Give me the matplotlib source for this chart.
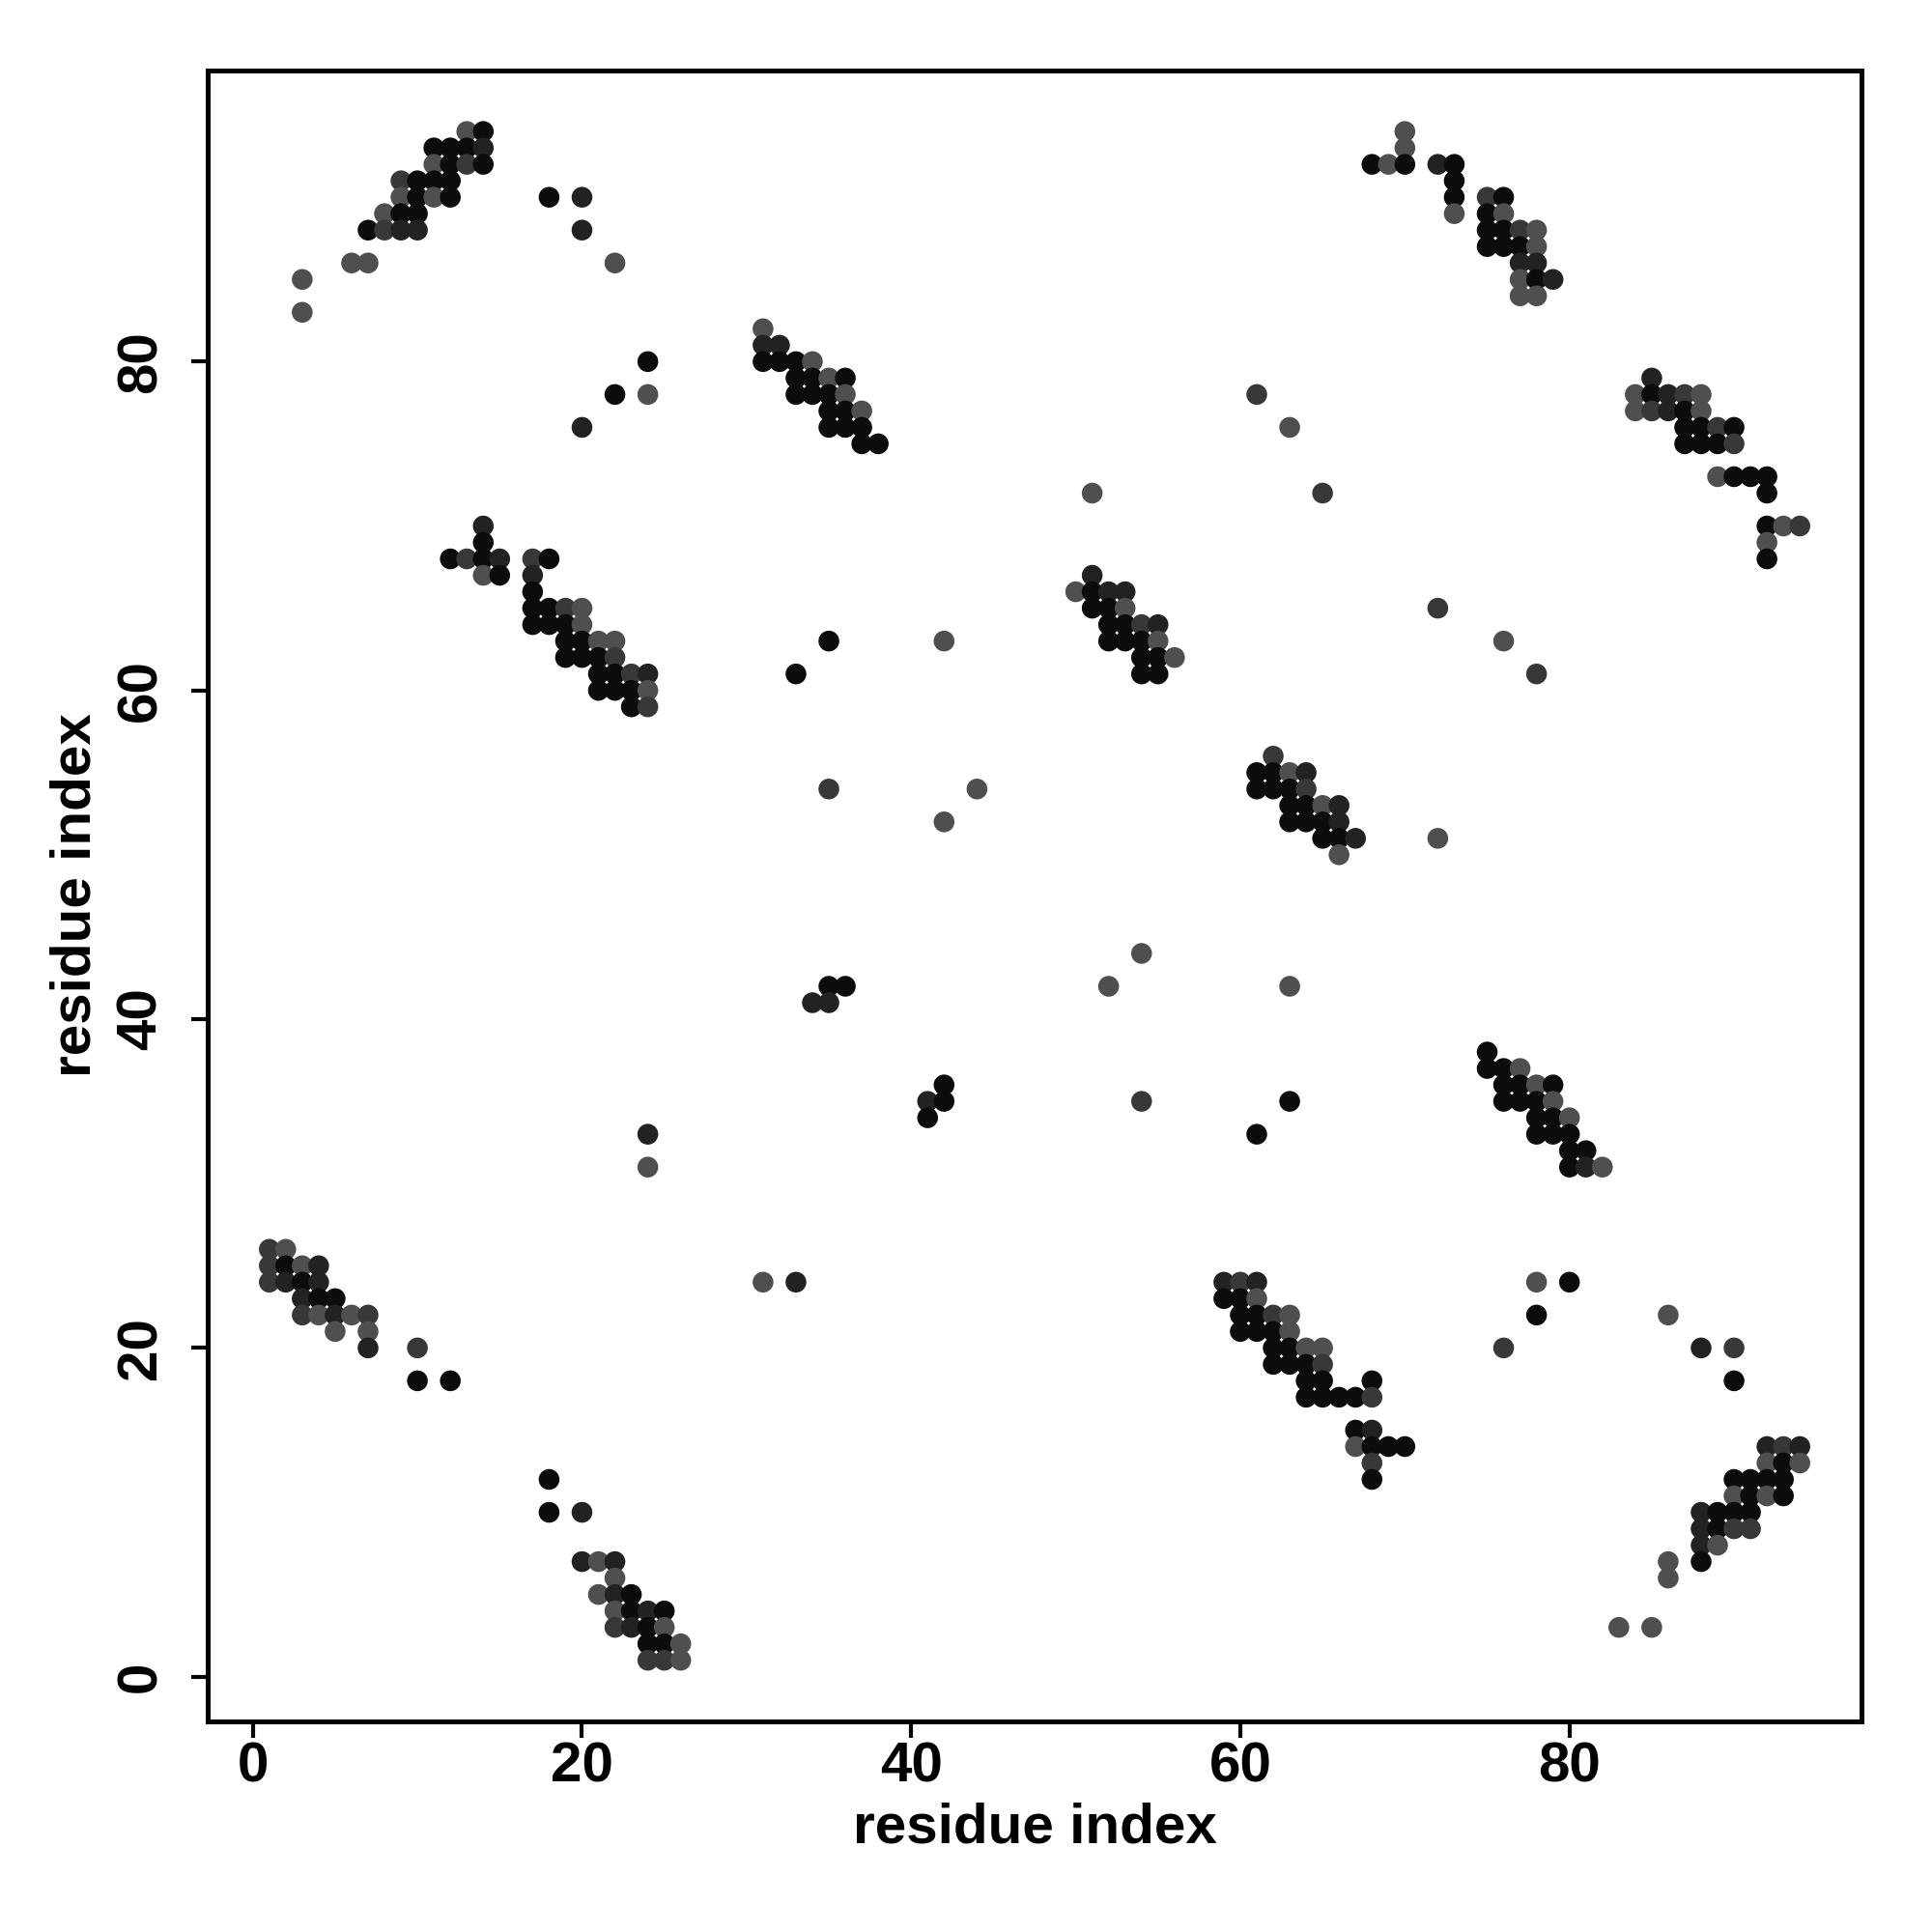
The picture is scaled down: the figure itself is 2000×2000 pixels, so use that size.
import matplotlib
matplotlib.use('Agg')
import matplotlib.pyplot as plt

# contact map: (i, j, shade) where shade 0=black ... 3=grey
contacts = [
    # top-left band
    (13, 94, 3), (14, 94, 0),
    (11, 93, 0), (12, 93, 0), (13, 93, 0), (14, 93, 1),
    (11, 92, 3), (12, 92, 0), (13, 92, 2), (14, 92, 0),
    (9, 91, 2), (10, 91, 0), (11, 91, 0), (12, 91, 0),
    (9, 90, 3), (10, 90, 0), (11, 90, 3), (12, 90, 0), (18, 90, 0), (20, 90, 1),
    (8, 89, 3), (9, 89, 0), (10, 89, 0),
    (7, 88, 0), (8, 88, 2), (9, 88, 1), (10, 88, 1), (20, 88, 1),
    (6, 86, 3), (7, 86, 3), (22, 86, 3),
    (3, 85, 3), (3, 83, 3),
    (24, 80, 0), (22, 78, 0), (24, 78, 3), (20, 76, 1),
    # 31-38 / 75-82
    (31, 82, 3),
    (31, 81, 1), (32, 81, 1),
    (31, 80, 0), (32, 80, 0), (33, 80, 0), (34, 80, 3),
    (33, 79, 0), (34, 79, 0), (35, 79, 3), (36, 79, 0),
    (33, 78, 0), (34, 78, 0), (35, 78, 0), (36, 78, 3),
    (35, 77, 0), (36, 77, 0), (37, 77, 3),
    (35, 76, 0), (36, 76, 0), (37, 76, 0),
    (37, 75, 0), (38, 75, 0),
    # 12-24 / 59-70
    (14, 70, 1), (14, 69, 0),
    (12, 68, 0), (13, 68, 2), (14, 68, 0), (15, 68, 1), (17, 68, 2), (18, 68, 0),
    (14, 67, 3), (15, 67, 0), (17, 67, 1),
    (17, 66, 0),
    (17, 65, 0), (18, 65, 0), (19, 65, 2), (20, 65, 3),
    (17, 64, 0), (18, 64, 0), (19, 64, 0), (20, 64, 3),
    (19, 63, 0), (20, 63, 0), (21, 63, 3), (22, 63, 3),
    (19, 62, 0), (20, 62, 0), (21, 62, 0), (22, 62, 2),
    (21, 61, 0), (22, 61, 0), (23, 61, 2), (24, 61, 1),
    (21, 60, 0), (22, 60, 0), (23, 60, 0), (24, 60, 3),
    (23, 59, 0), (24, 59, 2),
    (35, 63, 0), (33, 61, 0), (42, 63, 3),
    (35, 54, 2), (44, 54, 3), (42, 52, 3),
    # 50-56 / 61-67
    (51, 72, 3),
    (51, 67, 1),
    (50, 66, 3), (51, 66, 0), (52, 66, 1), (53, 66, 1),
    (51, 65, 0), (52, 65, 0), (53, 65, 3),
    (52, 64, 0), (53, 64, 0), (54, 64, 2), (55, 64, 1),
    (52, 63, 0), (53, 63, 0), (54, 63, 0), (55, 63, 3),
    (54, 62, 0), (55, 62, 0), (56, 62, 3),
    (54, 61, 0), (55, 61, 0),
    # top-right band
    (70, 94, 3), (70, 93, 3),
    (68, 92, 0), (69, 92, 3), (70, 92, 0), (72, 92, 1), (73, 92, 0),
    (73, 91, 0),
    (73, 90, 0), (75, 90, 2), (76, 90, 0),
    (73, 89, 3), (75, 89, 0), (76, 89, 3),
    (75, 88, 0), (76, 88, 0), (77, 88, 2), (78, 88, 3),
    (75, 87, 0), (76, 87, 0), (77, 87, 0), (78, 87, 3),
    (77, 86, 1), (78, 86, 1),
    (77, 85, 3), (78, 85, 0), (79, 85, 1),
    (77, 84, 3), (78, 84, 3),
    # scattered diagonal + 84-94 / 68-79
    (61, 78, 2), (63, 76, 3), (65, 72, 2), (72, 65, 2), (76, 63, 3), (78, 61, 2),
    (85, 79, 1),
    (84, 78, 3), (85, 78, 0), (86, 78, 1), (87, 78, 2), (88, 78, 3),
    (84, 77, 3), (85, 77, 2), (86, 77, 1), (87, 77, 0), (88, 77, 3),
    (87, 76, 0), (88, 76, 0), (89, 76, 2), (90, 76, 0),
    (87, 75, 0), (88, 75, 0), (89, 75, 0), (90, 75, 2),
    (89, 73, 3), (90, 73, 0), (91, 73, 0), (92, 73, 0),
    (92, 72, 0),
    (92, 70, 0), (93, 70, 3), (94, 70, 2),
    (92, 69, 3),
    (92, 68, 0),
    # 61-67 / 50-56
    (62, 56, 2),
    (61, 55, 0), (62, 55, 0), (63, 55, 3), (64, 55, 1),
    (61, 54, 0), (62, 54, 0), (63, 54, 0), (64, 54, 2),
    (63, 53, 0), (64, 53, 0), (65, 53, 3), (66, 53, 1),
    (63, 52, 0), (64, 52, 0), (65, 52, 0), (66, 52, 1),
    (65, 51, 0), (66, 51, 0), (67, 51, 1),
    (66, 50, 3), (72, 51, 3),
    # middle scatter
    (54, 44, 3), (52, 42, 3), (63, 42, 3), (54, 35, 2), (63, 35, 0), (61, 33, 0),
    (35, 42, 0), (36, 42, 0), (34, 41, 1), (35, 41, 1),
    (42, 36, 0), (41, 35, 1), (42, 35, 0), (41, 34, 0),
    (24, 33, 1), (24, 31, 3), (31, 24, 3), (33, 24, 1),
    # 75-82 / 31-38
    (75, 38, 0),
    (75, 37, 0), (76, 37, 0), (77, 37, 3),
    (76, 36, 0), (77, 36, 0), (78, 36, 3), (79, 36, 0),
    (76, 35, 0), (77, 35, 0), (78, 35, 0), (79, 35, 3),
    (78, 34, 0), (79, 34, 0), (80, 34, 3),
    (78, 33, 0), (79, 33, 0), (80, 33, 0),
    (80, 32, 0), (81, 32, 0),
    (80, 31, 0), (81, 31, 1), (82, 31, 3),
    # bottom-left band
    (1, 26, 2), (2, 26, 3),
    (1, 25, 2), (2, 25, 0), (3, 25, 3), (4, 25, 1),
    (1, 24, 2), (2, 24, 1), (3, 24, 0), (4, 24, 1),
    (3, 23, 1), (4, 23, 0), (5, 23, 0),
    (3, 22, 2), (4, 22, 3), (5, 22, 1), (6, 22, 3), (7, 22, 2),
    (5, 21, 3), (7, 21, 3),
    (7, 20, 1), (10, 20, 2),
    (10, 18, 0), (12, 18, 0),
    # 18-26 / 1-12
    (18, 12, 0), (18, 10, 0), (20, 10, 1),
    (20, 7, 1), (21, 7, 3), (22, 7, 1),
    (22, 6, 3),
    (21, 5, 3), (22, 5, 1), (23, 5, 0),
    (22, 4, 3), (23, 4, 0), (24, 4, 1), (25, 4, 0),
    (22, 3, 2), (23, 3, 1), (24, 3, 0), (25, 3, 3),
    (24, 2, 0), (25, 2, 0), (26, 2, 3),
    (24, 1, 2), (25, 1, 2), (26, 1, 3),
    # 59-70 / 12-24 and right scatter
    (59, 24, 1), (60, 24, 2), (61, 24, 1), (78, 24, 3), (80, 24, 0),
    (59, 23, 0), (60, 23, 0), (61, 23, 3),
    (60, 22, 0), (61, 22, 0), (62, 22, 2), (63, 22, 3), (78, 22, 0), (86, 22, 3),
    (60, 21, 0), (61, 21, 0), (62, 21, 0), (63, 21, 3),
    (62, 20, 0), (63, 20, 0), (64, 20, 3), (65, 20, 3), (76, 20, 2), (88, 20, 1), (90, 20, 2),
    (62, 19, 0), (63, 19, 0), (64, 19, 0), (65, 19, 2),
    (64, 18, 0), (65, 18, 0), (68, 18, 0), (90, 18, 0),
    (64, 17, 0), (65, 17, 0), (66, 17, 0), (67, 17, 0), (68, 17, 2),
    (67, 15, 0), (68, 15, 1),
    (67, 14, 3), (68, 14, 0), (69, 14, 0), (70, 14, 0),
    (68, 13, 2),
    (68, 12, 0),
    # bottom-right band
    (92, 14, 1), (93, 14, 2), (94, 14, 1),
    (92, 13, 3), (93, 13, 0), (94, 13, 3),
    (90, 12, 0), (91, 12, 0), (92, 12, 0), (93, 12, 0),
    (90, 11, 3), (91, 11, 0), (92, 11, 3), (93, 11, 0),
    (88, 10, 1), (89, 10, 0), (90, 10, 0), (91, 10, 0),
    (88, 9, 1), (89, 9, 0), (90, 9, 2), (91, 9, 2),
    (88, 8, 1), (89, 8, 3),
    (86, 7, 3), (88, 7, 0),
    (86, 6, 3),
    (83, 3, 3), (85, 3, 3),
]

res_i = [c[0] for c in contacts]
res_j = [c[1] for c in contacts]
shade = [c[2] for c in contacts]

grey_levels = ['#0c0c0c', '#222222', '#383838', '#4f4f4f']
tick_vals = [0, 20, 40, 60, 80]

plt.rcParams['font.family'] = ['Liberation Sans', 'DejaVu Sans']
plt.rcParams['font.weight'] = 'bold'

fig = plt.figure(figsize=(10, 10), dpi=200)
ax = fig.add_axes([0.1077, 0.109, 0.8556, 0.8546])

ax.scatter(res_i, res_j, s=60, c=[grey_levels[k] for k in shade], linewidths=0)

ax.set_xlim(-2.72, 97.72)
ax.set_ylim(-2.72, 97.72)
ax.set_xticks(tick_vals)
ax.set_yticks(tick_vals)
ax.set_xticklabels([str(t) for t in tick_vals], fontsize=21, fontweight='bold')
ax.set_yticklabels([str(t) for t in tick_vals], fontsize=21, fontweight='bold',
                   rotation=90, va='center')
ax.tick_params(axis='x', direction='out', length=6, width=1.5, pad=1.5)
ax.tick_params(axis='y', direction='out', length=6, width=1.5, pad=9)
for sp in ax.spines.values():
    sp.set_linewidth(1.8)

fig.text(1071 / 2000, 1 - 1892 / 2000, 'residue index', ha='center', va='center',
         fontsize=21, fontweight='bold')
fig.text(79 / 2000, 1 - 927 / 2000, 'residue index', ha='center', va='center',
         rotation=90, fontsize=21, fontweight='bold')

fig.savefig('out.png', dpi=200, facecolor='white')
